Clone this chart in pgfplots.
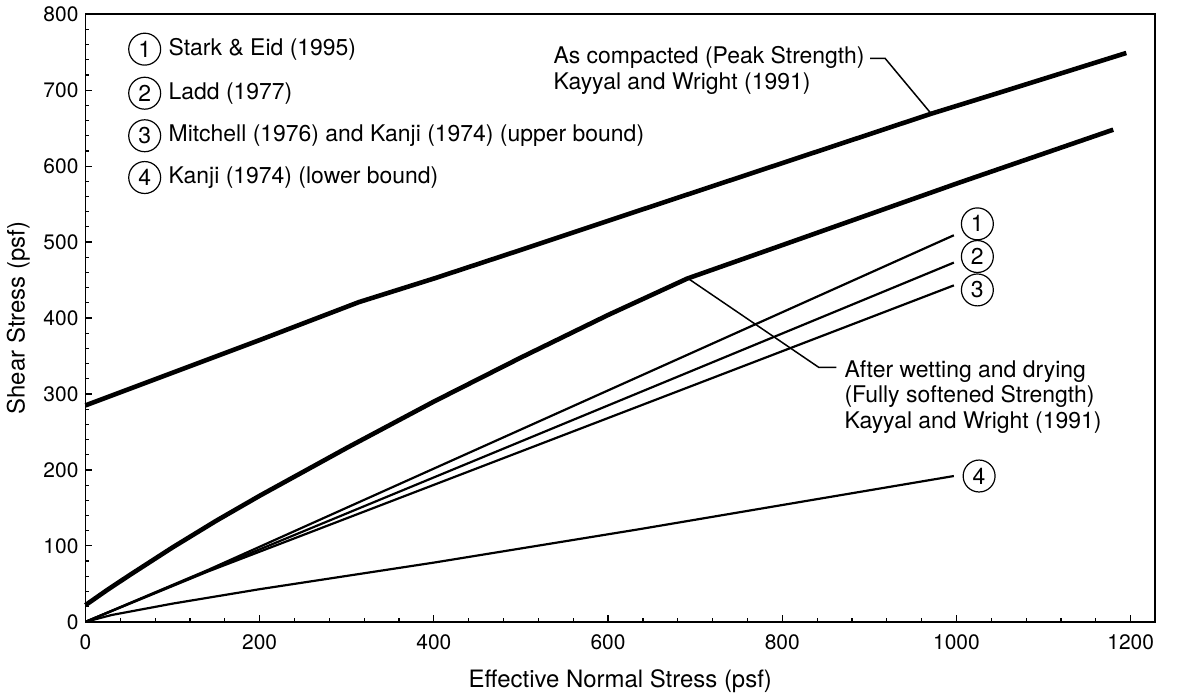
\documentclass[border=0pt]{standalone}
\usepackage{fontspec}
\setmainfont{TeX Gyre Heros}
\usepackage{pgfplots}
\pgfplotsset{compat=1.18}
\newcommand{\annfont}{\fontsize{11.5}{13}\selectfont}
\tikzset{circ/.style={circle, draw, line width=0.6pt, inner sep=0pt, minimum size=16pt, font=\annfont}}
\begin{document}
\begin{tikzpicture}
\begin{axis}[
  scale only axis,
  width=536pt, height=304.5pt,
  xmin=0, xmax=1228, ymin=0, ymax=800,
  xtick={0,200,...,1200}, ytick={0,100,...,800},
  minor x tick num=4, minor y tick num=4,
  tick pos=left,
  tick align=inside,
  major tick length=3.5pt, minor tick length=2pt,
  axis line style={line width=0.9pt},
  every tick/.style={black, line width=0.6pt},
  tick label style={font=\fontsize{10.5}{12}\selectfont},
  /pgf/number format/assume math mode=true,
  /pgf/number format/1000 sep={},
  xticklabel style={yshift=-3pt},
  xlabel={Effective Normal Stress (psf)},
  ylabel={Shear Stress (psf)},
  label style={font=\fontsize{12}{14}\selectfont},
  xlabel style={yshift=-3pt},
  clip=false,
]
% As compacted (peak strength)
\addplot[line width=2.3pt] coordinates {(0,285) (100,328) (200,371) (314,421) (400,452) (506,492) (600,528) (700,566) (800,604) (900,642) (971,669) (1050,697) (1195,749)};
% After wetting and drying (fully softened)
\addplot[line width=2.3pt] coordinates {(0,22) (25,42) (50,61) (100,98) (150,133) (200,166) (300,229) (400,290) (500,348) (600,404) (691,452) (800,496) (1000,577) (1180,648)};
% 1 Stark & Eid
\addplot[line width=1.1pt] coordinates {(0,0) (140,68) (997,509)};
% 2 Ladd
\addplot[line width=1.1pt] coordinates {(0,0) (140,67) (997,473)};
% 3 Mitchell / Kanji upper
\addplot[line width=1.1pt] coordinates {(0,0) (140,66) (997,443)};
% 4 Kanji lower
\addplot[line width=1.1pt] coordinates {(0,0) (30,9) (100,24) (200,43) (400,78) (636,122) (837,161) (997,192)};

% leaders
\draw[line width=0.75pt] (axis cs:901,742) -- (axis cs:918,742) -- (axis cs:971,669);
\draw[line width=0.75pt] (axis cs:692,452) -- (axis cs:842,335) -- (axis cs:862,335);
\node[anchor=north east, inner sep=0pt, align=left, font=\annfont] at (axis cs:895,758) {As compacted (Peak Strength)\\Kayyal and Wright (1991)};
\node[anchor=north west, inner sep=0pt, align=left, font=\annfont] at (axis cs:871,345) {After wetting and drying\\(Fully softened Strength)\\Kayyal and Wright (1991)};

% curve labels
\node[circ] at (axis cs:1024,524) {1};
\node[circ] at (axis cs:1024,481) {2};
\node[circ] at (axis cs:1024,437) {3};
\node[circ] at (axis cs:1026,192) {4};

% legend
\node[circ] (c1) at (axis cs:68,754) {1};
\node[circ] (c2) at (axis cs:68,696) {2};
\node[circ] (c3) at (axis cs:68,640) {3};
\node[circ] (c4) at (axis cs:68,585) {4};
\node[anchor=west, inner sep=0pt, font=\annfont] at ([xshift=3.5pt]c1.east) {Stark \& Eid (1995)};
\node[anchor=west, inner sep=0pt, font=\annfont] at ([xshift=3.5pt]c2.east) {Ladd (1977)};
\node[anchor=west, inner sep=0pt, font=\annfont] at ([xshift=3.5pt]c3.east) {Mitchell (1976) and Kanji (1974) (upper bound)};
\node[anchor=west, inner sep=0pt, font=\annfont] at ([xshift=3.5pt]c4.east) {Kanji (1974) (lower bound)};
\end{axis}
\path[use as bounding box] ([shift={(-41.5pt,-35pt)}]current axis.south west) rectangle ([shift={(12.5pt,6.5pt)}]current axis.north east);
\end{tikzpicture}
\end{document}
